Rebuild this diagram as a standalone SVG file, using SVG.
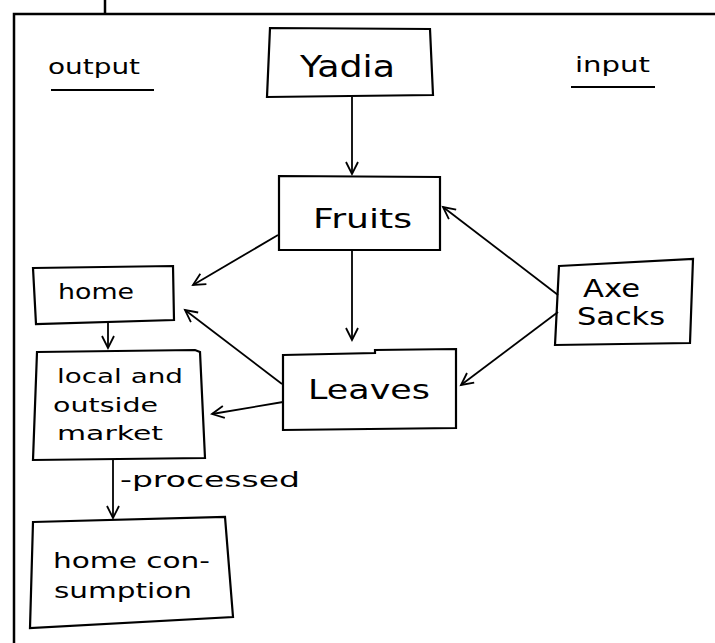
<svg xmlns="http://www.w3.org/2000/svg" width="715" height="643" viewBox="0 0 715 643">
<style>
  .box { fill: none; stroke: #000; stroke-width: 2.2; stroke-linejoin: miter; }
  .t { font-family: "DejaVu Sans", "Liberation Sans", sans-serif; fill: #000; }
  .edge { fill: none; stroke: #000; stroke-width: 1.8; marker-end: url(#arr); }
  .frame { fill: none; stroke: #000; stroke-width: 2.5; }
</style>
<defs>
  <marker id="arr" markerUnits="userSpaceOnUse" markerWidth="16" markerHeight="16" refX="13" refY="7" orient="auto">
    <path d="M1,1 L13,7 L1,13" fill="none" stroke="#000" stroke-width="1.8"/>
  </marker>
</defs>
<rect width="715" height="643" fill="#fff"/>

<g id="frame">
  <path class="frame" d="M14,643 L14,14 L715,14"/>
  <path class="frame" d="M105,0 L105,14" stroke-width="1.5"/>
</g>

<g id="labels">
  <text class="t" x="48" y="74" font-size="21" textLength="92" lengthAdjust="spacingAndGlyphs">output</text>
  <path d="M51,90 L154,90" stroke="#000" stroke-width="1.8"/>
  <text class="t" x="575" y="72" font-size="21" textLength="75" lengthAdjust="spacingAndGlyphs">input</text>
  <path d="M571,87 L655,87" stroke="#000" stroke-width="1.8"/>
</g>

<g id="yadia">
  <polygon class="box" points="270,28 430,29 433,95 267,97"/>
  <text class="t" x="300" y="77" font-size="31" textLength="95" lengthAdjust="spacingAndGlyphs">Yadia</text>
</g>

<g id="fruits">
  <polygon class="box" points="279,176 440,177 440,250 279,250"/>
  <text class="t" x="313" y="228" font-size="27" textLength="99" lengthAdjust="spacingAndGlyphs">Fruits</text>
</g>

<g id="leaves">
  <polygon class="box" points="283,355 375,353 375,350 456,349 456,428 283,430"/>
  <text class="t" x="308" y="399" font-size="27" textLength="122" lengthAdjust="spacingAndGlyphs">Leaves</text>
</g>

<g id="axe-sacks">
  <polygon class="box" points="559,266 693,259 690,343 555,345"/>
  <text class="t" x="583" y="297" font-size="24" textLength="57" lengthAdjust="spacingAndGlyphs">Axe</text>
  <text class="t" x="577" y="325" font-size="24" textLength="88" lengthAdjust="spacingAndGlyphs">Sacks</text>
</g>

<g id="home">
  <polygon class="box" points="33,268 173,266 174,320 36,324"/>
  <text class="t" x="58" y="299" font-size="21" textLength="76" lengthAdjust="spacingAndGlyphs">home</text>
</g>

<g id="market">
  <polygon class="box" points="37,352 195,350 200,352 205,458 33,460"/>
  <text class="t" x="57" y="383" font-size="20" textLength="126" lengthAdjust="spacingAndGlyphs">local and</text>
  <text class="t" x="53" y="412" font-size="20" textLength="105" lengthAdjust="spacingAndGlyphs">outside</text>
  <text class="t" x="57" y="440" font-size="20" textLength="106" lengthAdjust="spacingAndGlyphs">market</text>
</g>

<g id="home-consumption">
  <polygon class="box" points="33,522 225,517 233,617 30,628"/>
  <text class="t" x="53" y="568" font-size="22" textLength="157" lengthAdjust="spacingAndGlyphs">home con-</text>
  <text class="t" x="54" y="598" font-size="22" textLength="138" lengthAdjust="spacingAndGlyphs">sumption</text>
</g>

<g id="connectors">
  <path class="edge" d="M352,97 L352,174"/>
  <path class="edge" d="M352,250 L352,340"/>
  <path class="edge" d="M278,235 L193,285"/>
  <path class="edge" d="M282,384 L185,310"/>
  <path class="edge" d="M283,402 L212,414"/>
  <path class="edge" d="M558,295 L443,207"/>
  <path class="edge" d="M558,312 L461,385"/>
  <path class="edge" d="M108,322 L108,348"/>
  <path class="edge" d="M113,460 L113,518" stroke-width="3"/>
  <text class="t" x="120" y="487" font-size="21" textLength="180" lengthAdjust="spacingAndGlyphs">-processed</text>
</g>
</svg>
